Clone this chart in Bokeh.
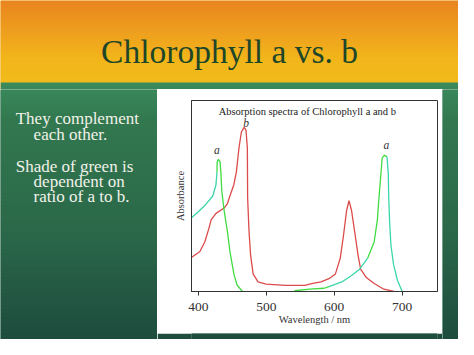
from bokeh.plotting import figure
from bokeh.models import Label, FixedTicker, Range1d
from bokeh.layouts import column, row
from bokeh.core.properties import value
from bokeh.embed import file_html
from bokeh.resources import INLINE

# ---------------- data ----------------
# Chlorophyll a, blue band (wavelength nm, absorbance a.u.)
chl_a_blue_wl = [390.4, 400.0, 409.5, 421.3, 426.0, 427.5, 427.7, 429.5, 432.0, 433.2,
                 434.6, 438.0, 442.7, 446.6, 452.3, 457.0, 465.0]
chl_a_blue_abs = [0.387, 0.418, 0.450, 0.500, 0.559, 0.625, 0.675, 0.692, 0.680, 0.625,
                  0.525, 0.425, 0.317, 0.209, 0.092, 0.034, 0.000]
# Chlorophyll a, red band
chl_a_red_wl = [541.4, 563.8, 585.2, 592.3, 611.2, 625.5, 637.4, 649.3, 658.8, 663.5,
                665.9, 668.2, 670.6, 673.9, 677.7, 679.6, 680.2, 681.6, 683.5, 687.3,
                693.0, 700.0]
chl_a_red_abs = [0.004, 0.012, 0.017, 0.025, 0.050, 0.084, 0.117, 0.175, 0.259, 0.375,
                 0.492, 0.592, 0.700, 0.714, 0.704, 0.617, 0.492, 0.359, 0.242, 0.142,
                 0.059, 0.000]
# Chlorophyll b
chl_b_wl = [390.4, 402.4, 409.5, 415.2, 418.9, 426.0, 438.0, 442.7, 447.4, 452.3,
            456.0, 459.8, 463.4, 467.4, 470.2, 472.2, 472.6, 474.5, 476.9, 480.7,
            487.9, 499.7, 528.2, 556.7, 568.5, 580.5, 592.3, 601.8, 608.9, 613.6,
            618.3, 621.8, 625.5, 630.3, 635.0, 638.9, 646.8, 658.8, 673.1, 688.0]
chl_b_abs = [0.179, 0.209, 0.259, 0.325, 0.375, 0.409, 0.437, 0.459, 0.509, 0.559,
             0.625, 0.750, 0.835, 0.859, 0.845, 0.750, 0.492, 0.325, 0.192, 0.092,
             0.050, 0.039, 0.032, 0.032, 0.042, 0.050, 0.067, 0.092, 0.175, 0.292,
             0.425, 0.475, 0.425, 0.309, 0.192, 0.117, 0.075, 0.042, 0.012, 0.000]

x_ticks = [400, 500, 600, 700]
peak_labels = ["a", "b", "a"]
peak_label_wl = [427.5, 470.2, 676.8]
peak_label_abs = [0.742, 0.880, 0.767]

slide_title = "Chlorophyll a vs. b"
bullet_lines = ["They complement", "each other.", "Shade of green is",
                "dependent on", "ratio of a to b."]
chart_title = "Absorption spectra of Chlorophyll a and b"

SERIF = "Liberation Serif"
W, H = 458, 339
HEAD_H = 89          # header band height
TEXT_W = 157         # left text column width
CARD_W = 285         # white card width
CARD_H = 241         # white card height
BODY_H = H - HEAD_H

# ---------------- helpers for slide decoration ----------------
def hexmix(c1, c2, t):
    a = [int(c1[i:i + 2], 16) for i in (1, 3, 5)]
    b = [int(c2[i:i + 2], 16) for i in (1, 3, 5)]
    return "#%02x%02x%02x" % tuple(round(a[k] + (b[k] - a[k]) * t) for k in range(3))

STOPS = [(0, "#e8841e"), (33, "#eea01e"), (59, "#f2b61a"), (82, "#f2ba1a"),
         (83, "#3a8a5c"), (120, "#32784f"), (230, "#2b6849"), (339, "#1d4c3e")]

def color_at(y):
    for i in range(len(STOPS) - 1):
        if STOPS[i][0] <= y <= STOPS[i + 1][0]:
            t = (y - STOPS[i][0]) / max(STOPS[i + 1][0] - STOPS[i][0], 1e-9)
            return hexmix(STOPS[i][1], STOPS[i + 1][1], t)
    return STOPS[-1][1]

def deco_fig(x0, y0, x1, y1, step=3):
    f = figure(width=int(x1 - x0), height=int(y1 - y0),
               x_range=Range1d(x0, x1), y_range=Range1d(y1, y0),
               output_backend="svg", toolbar_location=None,
               x_axis_location=None, y_axis_location=None, min_border=0)
    f.xgrid.visible = False
    f.ygrid.visible = False
    f.outline_line_color = None
    mid = color_at((y0 + y1) / 2)
    f.background_fill_color = mid
    f.border_fill_color = mid
    tops, bots, cols = [], [], []
    y = y0
    while y < y1:
        tops.append(y)
        bots.append(min(y + step + 0.6, y1))
        cols.append(color_at(y + step / 2))
        y += step
    f.quad(left=x0, right=x1, top=tops, bottom=bots, fill_color=cols,
           line_color=None)
    return f

# ---------------- header with slide title ----------------
head = deco_fig(0, 0, W, HEAD_H, step=2)
head.text(x=[229], y=[50.6], text=[slide_title], text_font=value(SERIF),
          text_font_size="33.5px", text_color="#1e4628", text_align="center",
          text_baseline="alphabetic")

# ---------------- left text column ----------------
left = deco_fig(0, HEAD_H, TEXT_W, H, step=4)
bullet_x = [15.2, 33.1, 15.2, 33.1, 33.1]
bullet_y = [118.4, 134.4, 166.2, 181.4, 196.4]
left.text(x=bullet_x, y=bullet_y, text=bullet_lines, text_font=value(SERIF),
          text_font_size="17px", text_color="#f2f2ea", text_align="left",
          text_baseline="alphabetic")

# ---------------- chart card ----------------
p = figure(width=CARD_W, height=CARD_H, x_range=Range1d(390, 752), y_range=Range1d(0, 1),
           output_backend="svg", toolbar_location=None,
           min_border_left=34, min_border_right=5, min_border_top=11,
           min_border_bottom=39)
p.background_fill_color = "white"
p.border_fill_color = "white"
p.outline_line_color = "#333333"
p.outline_line_width = 1
p.xgrid.visible = False
p.ygrid.visible = False

p.xaxis.ticker = FixedTicker(ticks=x_ticks)
p.xaxis.minor_tick_line_color = None
p.xaxis.major_tick_in = 0
p.xaxis.major_tick_out = 4
p.xaxis.axis_line_color = "#333333"
p.xaxis.major_tick_line_color = "#333333"
p.xaxis.major_label_text_font = SERIF
p.xaxis.major_label_text_font_size = "13.5px"
p.xaxis.major_label_text_color = "#333333"
p.xaxis.major_label_standoff = 7
p.xaxis.axis_label = "Wavelength / nm"
p.xaxis.axis_label_text_font = SERIF
p.xaxis.axis_label_text_font_size = "10.5px"
p.xaxis.axis_label_text_font_style = "normal"
p.xaxis.axis_label_text_color = "#333333"
p.xaxis.axis_label_standoff = 0

p.yaxis.ticker = FixedTicker(ticks=[])
p.yaxis.minor_tick_line_color = None
p.yaxis.major_tick_line_color = None
p.yaxis.major_label_text_font_size = "0px"
p.yaxis.major_label_standoff = 0
p.yaxis.axis_line_color = "#333333"
p.yaxis.axis_label = "Absorbance"
p.yaxis.axis_label_text_font = SERIF
p.yaxis.axis_label_text_font_size = "10.5px"
p.yaxis.axis_label_text_font_style = "normal"
p.yaxis.axis_label_text_color = "#333333"
p.yaxis.axis_label_standoff = 6

GREEN = "#42dc42"
CYAN = "#3ad6aa"
RED = "#dc4a4a"
LW = 1.3

p.line(chl_b_wl, chl_b_abs, line_color=RED, line_width=LW)
p.line(chl_a_blue_wl[:6], chl_a_blue_abs[:6], line_color=CYAN, line_width=LW)
p.line(chl_a_blue_wl[5:], chl_a_blue_abs[5:], line_color=GREEN, line_width=LW)
p.line(chl_a_red_wl[:4], chl_a_red_abs[:4], line_color=GREEN, line_width=LW)
p.line(chl_a_red_wl[3:8], chl_a_red_abs[3:8], line_color=CYAN, line_width=LW)
p.line(chl_a_red_wl[7:15], chl_a_red_abs[7:15], line_color=GREEN, line_width=LW)
p.line(chl_a_red_wl[14:], chl_a_red_abs[14:], line_color=CYAN, line_width=LW)

p.text(x=peak_label_wl, y=peak_label_abs, text=peak_labels, text_font=value(SERIF),
       text_font_size="11.5px", text_font_style="italic", text_color="#333333",
       text_align="center", text_baseline="middle")

p.add_layout(Label(x=149.8, y=21.8, x_units="canvas", y_units="canvas", text=chart_title,
                   text_font=SERIF, text_font_size="10.5px", text_color="#222222",
                   text_align="center", text_baseline="alphabetic"))

bottom = deco_fig(TEXT_W, HEAD_H + CARD_H, TEXT_W + CARD_W, H, step=3)
right = deco_fig(TEXT_W + CARD_W, HEAD_H, W, H, step=4)

layout = column(head, row(left, column(p, bottom, spacing=0), right, spacing=0), spacing=0)

open("out.html", "w").write(file_html(layout, INLINE))
